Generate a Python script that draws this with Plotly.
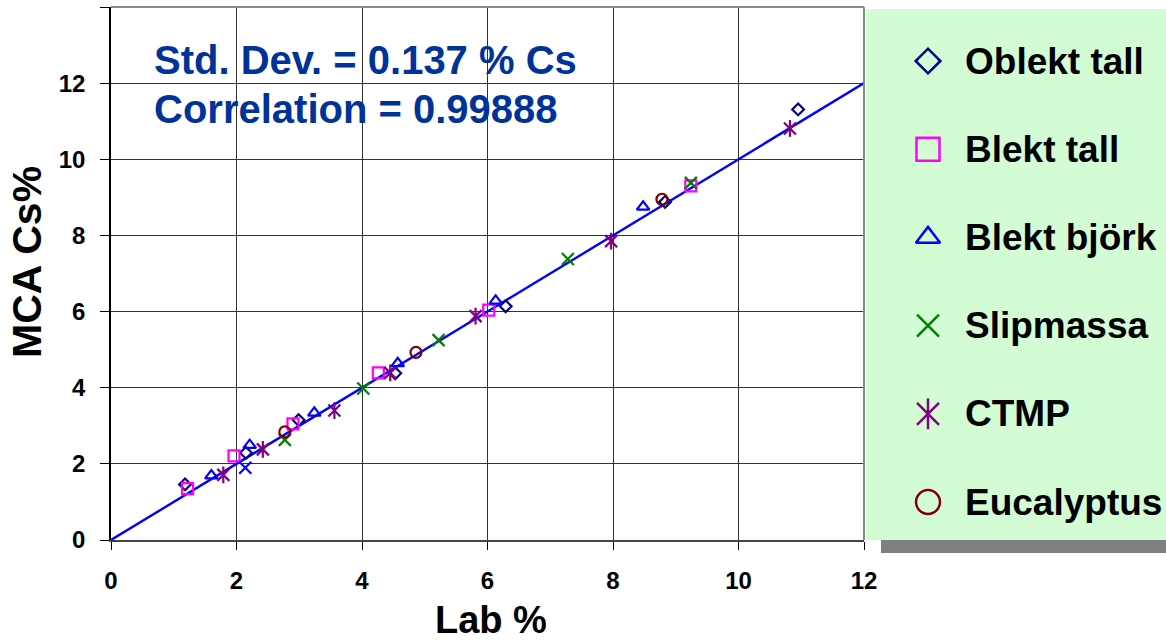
import plotly.graph_objects as go

# ---------------- data ----------------
oblekt_tall_x = [1.18, 2.15, 2.99, 4.53, 6.29, 8.83, 10.95]
oblekt_tall_y = [1.46, 2.29, 3.15, 4.38, 6.14, 8.88, 11.31]

blekt_tall_x = [1.22, 1.96, 2.90, 4.26, 6.02, 9.24]
blekt_tall_y = [1.35, 2.21, 3.05, 4.39, 6.04, 9.30]

blekt_bjork_x = [1.60, 2.21, 3.24, 4.57, 6.13, 8.48]
blekt_bjork_y = [1.69, 2.49, 3.34, 4.64, 6.28, 8.75]

slipmassa_x = [2.77, 4.02, 5.22, 7.28, 9.24]
slipmassa_y = [2.63, 3.98, 5.25, 7.38, 9.38]

ctmp_x = [1.79, 2.42, 3.56, 4.45, 5.81, 7.97, 10.82]
ctmp_y = [1.71, 2.38, 3.40, 4.39, 5.88, 7.85, 10.81]

eucalyptus_x = [2.77, 4.86, 8.78]
eucalyptus_y = [2.84, 4.93, 8.95]

other_x = [2.14]
other_y = [1.90]

fit_x = [0, 12]
fit_y = [0, 12]

x_ticks = [0, 2, 4, 6, 8, 10, 12]
y_ticks = [0, 2, 4, 6, 8, 10, 12, 14]
y_ticktext = ["0", "2", "4", "6", "8", "10", "12", ""]

series_names = ["Oblekt tall", "Blekt tall", "Blekt björk", "Slipmassa", "CTMP", "Eucalyptus"]
stats_lines = ["Std. Dev. = 0.137 % Cs", "Correlation = 0.99888"]
x_title = "Lab %"
y_title = "MCA Cs%"

# ---------------- geometry helpers ----------------
W, H = 1166, 643
ML, MR, MT, MB = 111, 0, 7, 103
PW = W - ML - MR
PH = H - MT - MB
PLOT_RIGHT = 864


def px(xp):
    return (xp - ML) / PW


def py(yp):
    return (H - MB - yp) / PH


FONT = "Liberation Sans, Arial, Helvetica, sans-serif"

styles = [
    dict(symbol="diamond-open", color="#000080", size=9, lsize=19),
    dict(symbol="square-open", color="#ff00ff", size=11, lsize=23),
    dict(symbol="triangle-up-open", color="#0000ff", size=11, lsize=21),
    dict(symbol="x-thin-open", color="#008000", size=12, lsize=22),
    dict(symbol="x-thin-open", color="#800080", size=12, lsize=22),
    dict(symbol="circle-open", color="#800000", size=11, lsize=24),
]
data = [
    (oblekt_tall_x, oblekt_tall_y),
    (blekt_tall_x, blekt_tall_y),
    (blekt_bjork_x, blekt_bjork_y),
    (slipmassa_x, slipmassa_y),
    (ctmp_x, ctmp_y),
    (eucalyptus_x, eucalyptus_y),
]

fig = go.Figure()

fig.add_trace(go.Scatter(x=fit_x, y=fit_y, mode="lines",
                         line=dict(color="#0000ff", width=2.4),
                         showlegend=False, hoverinfo="skip"))

for name, (xs, ys), st in zip(series_names, data, styles):
    fig.add_trace(go.Scatter(
        x=xs, y=ys, mode="markers", name=name, showlegend=False,
        marker=dict(symbol=st["symbol"], size=st["size"], color=st["color"],
                    line=dict(color=st["color"], width=2.2))))
    if name == "CTMP":
        fig.add_trace(go.Scatter(
            x=xs, y=ys, mode="markers", name=name, showlegend=False,
            marker=dict(symbol="line-ns-open", size=st["size"], color=st["color"],
                        line=dict(color=st["color"], width=2.2))))

fig.add_trace(go.Scatter(
    x=other_x, y=other_y, mode="markers", showlegend=False,
    marker=dict(symbol="x-thin-open", size=12, color="#0000ff",
                line=dict(color="#0000ff", width=2.2))))

# ---------------- custom legend ----------------
LEG_X0, LEG_X1, LEG_Y0, LEG_Y1 = 866, 1166, 9, 540
row0, row_step = 61, 88.2
mark_x, text_x = 928, 963

for i, (name, st) in enumerate(zip(series_names, styles)):
    ry = row0 + i * row_step
    fig.add_trace(go.Scatter(
        x=[mark_x], y=[ry], xaxis="x2", yaxis="y2", mode="markers",
        showlegend=False, hoverinfo="skip",
        marker=dict(symbol=st["symbol"], size=st["lsize"], color=st["color"],
                    line=dict(color=st["color"], width=2.5))))
    if name == "CTMP":
        fig.add_trace(go.Scatter(
            x=[mark_x], y=[ry], xaxis="x2", yaxis="y2", mode="markers",
            showlegend=False, hoverinfo="skip",
            marker=dict(symbol="line-ns-open", size=st["lsize"], color=st["color"],
                        line=dict(color=st["color"], width=2.5))))

annotations = []
for i, name in enumerate(series_names):
    ry = row0 + i * row_step
    annotations.append(dict(
        x=text_x, y=ry, xref="x2", yref="y2", text=name, showarrow=False,
        xanchor="left", yanchor="middle",
        font=dict(family=FONT, size=37, color="black", weight="bold")))

for j, line in enumerate(stats_lines):
    annotations.append(dict(
        x=px(152), y=py(60 + j * 49), xref="paper", yref="paper", text=line,
        showarrow=False, xanchor="left", yanchor="middle",
        font=dict(family=FONT, size=40, color="#003399", weight="bold")))

# axis titles
annotations.append(dict(
    x=px(491), y=py(620), xref="paper", yref="paper", text=x_title,
    showarrow=False, xanchor="center", yanchor="middle",
    font=dict(family=FONT, size=38, color="black", weight="bold")))
annotations.append(dict(
    x=px(27), y=py(262), xref="paper", yref="paper", text=y_title,
    showarrow=False, xanchor="center", yanchor="middle", textangle=-90,
    font=dict(family=FONT, size=41, color="black", weight="bold")))

shapes = [
    # legend shadow
    dict(type="rect", xref="paper", yref="paper", layer="below",
         x0=px(881), x1=px(1166), y0=py(553), y1=py(540),
         fillcolor="#808080", line=dict(width=0)),
    # legend box
    dict(type="rect", xref="paper", yref="paper", layer="below",
         x0=px(LEG_X0), x1=px(LEG_X1), y0=py(LEG_Y1), y1=py(LEG_Y0),
         fillcolor="#d4fcd4", line=dict(width=0)),
    # top border
    dict(type="line", xref="paper", yref="paper",
         x0=0, x1=px(PLOT_RIGHT), y0=1, y1=1,
         line=dict(color="#888888", width=2)),
    # right border
    dict(type="line", xref="paper", yref="paper",
         x0=px(PLOT_RIGHT), x1=px(PLOT_RIGHT), y0=0, y1=1,
         line=dict(color="#888888", width=2)),
]

fig.update_layout(
    width=W, height=H,
    margin=dict(l=ML, r=MR, t=MT, b=MB, autoexpand=False),
    paper_bgcolor="white", plot_bgcolor="white",
    showlegend=False,
    font=dict(family=FONT, color="black"),
    xaxis=dict(domain=[0, px(PLOT_RIGHT)], range=[0, 12], tickvals=x_ticks,
               automargin=False,
               showgrid=True, gridcolor="#333333", gridwidth=1, zeroline=False,
               showline=True, linecolor="#444444", linewidth=2,
               ticks="outside", ticklen=8, tickcolor="black", tickwidth=1,
               ticklabelstandoff=10,
               tickfont=dict(family=FONT, size=24, weight="bold")),
    yaxis=dict(domain=[0, 1], range=[0, 14], tickvals=y_ticks, ticktext=y_ticktext,
               automargin=False,
               showgrid=True, gridcolor="#333333", gridwidth=1, zeroline=False,
               showline=True, linecolor="black", linewidth=1.5,
               ticks="outside", ticklen=9, tickcolor="black", tickwidth=1,
               ticklabelstandoff=10,
               tickfont=dict(family=FONT, size=24, weight="bold")),
    xaxis2=dict(domain=[px(LEG_X0), 1], range=[LEG_X0, LEG_X1], visible=False,
                fixedrange=True),
    yaxis2=dict(domain=[0, 1], range=[H - MB, MT], visible=False, fixedrange=True,
                anchor="x2"),
    annotations=annotations,
    shapes=shapes,
)

fig.write_html("out.html",
               config={"displayModeBar": False},
               post_script="document.body.style.margin='0';document.body.style.overflow='hidden';")
